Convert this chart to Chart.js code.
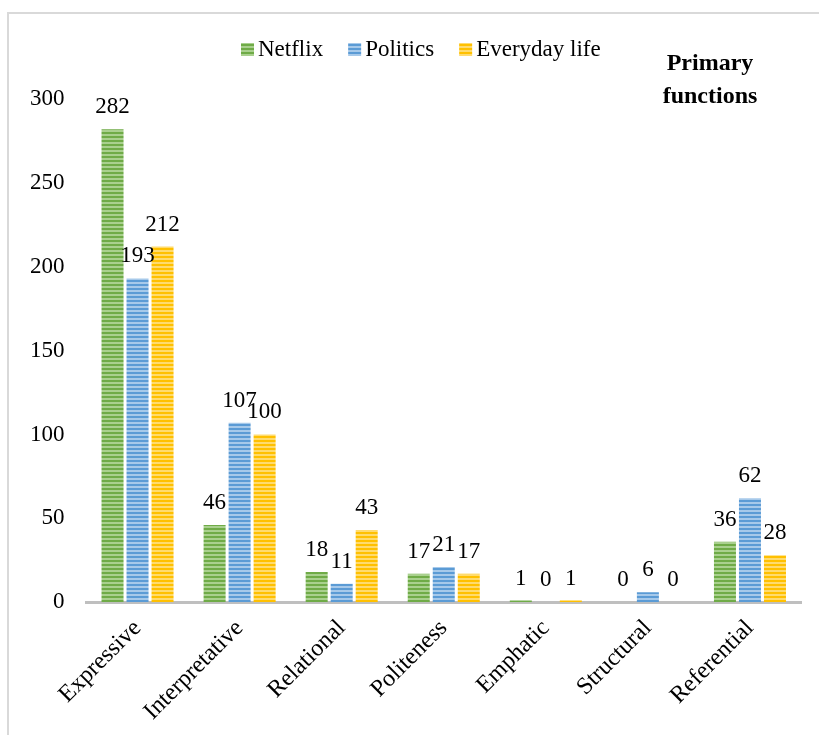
<!DOCTYPE html>
<html>
<head>
<meta charset="utf-8">
<script src="https://cdn.jsdelivr.net/npm/chart.js@4"></script>
<style>
  html, body { margin: 0; padding: 0; background: #ffffff; }
  #wrap { width: 819px; height: 735px; position: relative; }
</style>
</head>
<body>
<div id="wrap"><canvas id="chart" width="819" height="735"></canvas></div>
<script>
// Counts of primary functions per corpus
const categories = ['Expressive', 'Interpretative', 'Relational', 'Politeness', 'Emphatic', 'Structural', 'Referential'];
const netflix = [282, 46, 18, 17, 1, 0, 36];
const politics = [193, 107, 11, 21, 0, 6, 62];
const everyday = [212, 100, 43, 17, 1, 0, 28];
const seriesNames = ['Netflix', 'Politics', 'Everyday life'];
const yTicks = [0, 50, 100, 150, 200, 250, 300];

const SERIF = '"Liberation Serif", "Times New Roman", serif';

// Horizontal striped fill used for each series
function stripes(dark, light) {
  const c = document.createElement('canvas');
  c.width = 4; c.height = 4;
  const g = c.getContext('2d');
  g.fillStyle = light; g.fillRect(0, 0, 4, 4);
  g.fillStyle = dark; g.fillRect(0, 0, 4, 2);
  return g.createPattern(c, 'repeat');
}

const fills = [
  stripes('#6fab47', '#a9d08e'),
  stripes('#5b9bd5', '#a6c9ea'),
  stripes('#ffc000', '#ffdb6e')
];

// Thin grey frame around the figure
const framePlugin = {
  id: 'frame',
  beforeDraw(chart) {
    const ctx = chart.ctx;
    ctx.save();
    ctx.strokeStyle = '#d9d9d9';
    ctx.lineWidth = 2;
    ctx.beginPath();
    ctx.moveTo(8, 735);
    ctx.lineTo(8, 13);
    ctx.lineTo(819, 13);
    ctx.stroke();
    ctx.restore();
  }
};

// Value labels above each bar
const valueLabels = {
  id: 'valueLabels',
  afterDatasetsDraw(chart) {
    const ctx = chart.ctx;
    ctx.save();
    ctx.font = '23px ' + SERIF;
    ctx.fillStyle = '#000000';
    ctx.textAlign = 'center';
    ctx.textBaseline = 'alphabetic';
    chart.data.datasets.forEach((ds, i) => {
      const meta = chart.getDatasetMeta(i);
      meta.data.forEach((bar, j) => {
        ctx.fillText(String(ds.data[j]), bar.x, bar.y - 16);
      });
    });
    ctx.restore();
  }
};

// Series key across the top, with small square swatches
const seriesKey = {
  id: 'seriesKey',
  afterDraw(chart) {
    const ctx = chart.ctx;
    ctx.save();
    ctx.font = '23px ' + SERIF;
    ctx.fillStyle = '#000000';
    ctx.textBaseline = 'alphabetic';
    ctx.textAlign = 'left';
    let x = 241;
    chart.data.datasets.forEach((ds) => {
      ctx.fillStyle = ds.backgroundColor;
      ctx.fillRect(x, 43, 13, 13);
      ctx.fillStyle = '#000000';
      ctx.fillText(ds.label, x + 17, 56);
      x += 17 + ctx.measureText(ds.label).width + 25;
    });
    ctx.restore();
  }
};

// Heading in the upper right corner
const heading = {
  id: 'heading',
  afterDraw(chart) {
    const ctx = chart.ctx;
    ctx.save();
    ctx.font = 'bold 24px ' + SERIF;
    ctx.fillStyle = '#000000';
    ctx.textAlign = 'center';
    ctx.textBaseline = 'alphabetic';
    ctx.fillText('Primary', 710, 70);
    ctx.fillText('functions', 710, 103);
    ctx.restore();
  }
};

new Chart(document.getElementById('chart'), {
  type: 'bar',
  data: {
    labels: categories,
    datasets: [
      { label: seriesNames[0], data: netflix, backgroundColor: fills[0] },
      { label: seriesNames[1], data: politics, backgroundColor: fills[1] },
      { label: seriesNames[2], data: everyday, backgroundColor: fills[2] }
    ]
  },
  options: {
    responsive: false,
    animation: false,
    devicePixelRatio: 1,
    layout: { autoPadding: false, padding: { left: 8, right: 18, top: 99, bottom: 5 } },
    datasets: { bar: { categoryPercentage: 0.735, barPercentage: 0.88 } },
    plugins: {
      legend: { display: false },
      tooltip: { enabled: false },
      title: { display: false }
    },
    scales: {
      x: {
        grid: { display: false },
        border: { display: true, color: '#bfbfbf', width: 3 },
        ticks: {
          font: { family: SERIF, size: 24 },
          color: '#000000',
          maxRotation: 45,
          minRotation: 45,
          padding: 4
        }
      },
      y: {
        min: 0,
        max: 300,
        afterBuildTicks(axis) { axis.ticks = yTicks.map(v => ({ value: v })); },
        grid: { display: false, drawTicks: false },
        border: { display: false },
        ticks: {
          font: { family: SERIF, size: 23 },
          color: '#000000',
          padding: 22
        }
      }
    }
  },
  plugins: [framePlugin, valueLabels, seriesKey, heading]
});
</script>
</body>
</html>
